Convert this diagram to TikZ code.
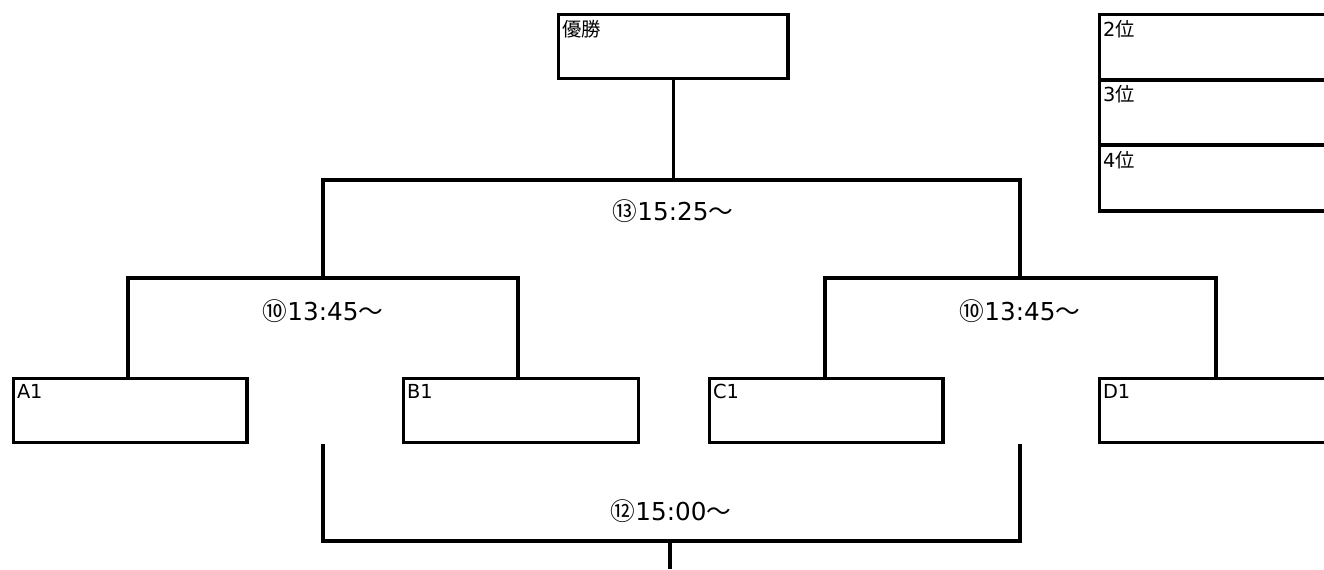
\documentclass[tikz,border=0pt]{standalone}
\usepackage{fontspec}
\setmainfont{DejaVu Sans}
\newfontfamily\jpfont{Noto Sans CJK JP}
\usetikzlibrary{positioning}
\tikzset{slot/.style={draw, minimum width=#1, minimum height=48pt, anchor=north west, inner sep=0pt},
        rank/.style={slot=#1, minimum height=49pt},
        tag/.style={anchor=north west, inner xsep=2.5pt, inner ysep=4pt, font=\fontsize{14.5}{16}\selectfont},
        slottext/.style={label={[tag]north west:#1}},
        time/.style={font=\fontsize{18.5}{21}\selectfont}}

\begin{document}
\begin{tikzpicture}[x=0.75pt, y=-0.75pt, line width=2.5pt]
					\useasboundingbox (0,0) rectangle (1324,569);
					\clip (0,0) rectangle (1324,569);

					% winner and places
					\node[slot=172pt, slottext={\jpfont 優勝}] (win) at (557,13) {};
					\node[rank=200pt, slottext={2\jpfont 位}] (second) at (1098,13) {};
					\node[rank=200pt, slottext={3\jpfont 位}] (third) at (1098,78) {};
					\node[rank=200pt, slottext={4\jpfont 位}] (fourth) at (1098,144) {};

					% first round
					\node[slot=175pt, slottext={A1}] (a1) at (12,377) {};
					\node[slot=176pt, slottext={B1}] (b1) at (402,377) {};
					\node[slot=175pt, slottext={C1}] (c1) at (708,377) {};
					\node[slot=200pt, slottext={D1}] (d1) at (1098,377) {};

					\coordinate (semiL) at (128,278);
					\coordinate (semiR) at (825,278);
					\coordinate (finL) at (323,180);
					\coordinate (finR) at (1020,180);
					\coordinate (thirdL) at (323,541);
					\coordinate (thirdR) at (1020,541);
					\coordinate (thirdend) at (670,569);

					% semi finals
					\draw (a1.north -| semiL) -- (semiL) -- (semiL -| 518,0) -- (b1.north -| 518,0);
					\draw (c1.north -| semiR) -- (semiR) -- (semiR -| 1216,0) -- (d1.north -| 1216,0);
					\node[time] (semitimeL) at (323,311) {\jpfont ⑩\rmfamily 13:45\jpfont ～};
					\node[time] (semitimeR) at (1020,311) {\jpfont ⑩\rmfamily 13:45\jpfont ～};

					% final
					\draw (semiL -| finL) -- (finL) -- (finR) -- (semiR -| finR);
					\draw (finL -| win.south) -- (win.south);
					\node[time] (fintime) at (673,211) {\jpfont ⑬\rmfamily 15:25\jpfont ～};

					% third place
					\draw (a1.south -| thirdL) -- (thirdL) -- (thirdR) -- (a1.south -| thirdR);
					\draw (thirdL -| thirdend) -- (thirdend);
					\node[time] (thirdtime) at (671,511) {\jpfont ⑫\rmfamily 15:00\jpfont ～};

				\end{tikzpicture}
\end{document}
